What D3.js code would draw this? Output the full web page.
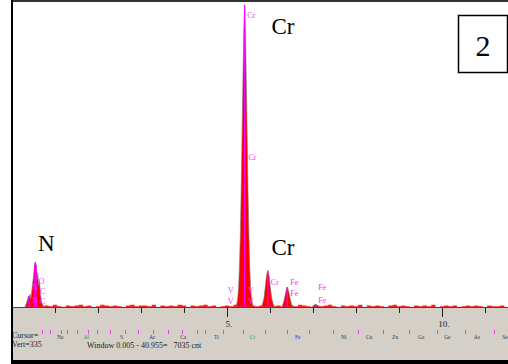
<!DOCTYPE html>
<html>
<head>
<meta charset="utf-8">
<script src="https://cdn.jsdelivr.net/npm/d3@7"></script>
<style>
  html, body { margin: 0; padding: 0; background: #fff; }
  svg { display: block; }
</style>
</head>
<body>
<svg id="chart"></svg>
<script>
// spectrum peaks, [keV, counts]
var nPeak = [[0.30,0],[0.32,2],[0.34,5],[0.36,8],[0.38,12],[0.40,10],[0.42,14],[0.44,9],[0.46,18],[0.48,26],
  [0.50,34],[0.52,44],[0.54,50],[0.56,46],[0.58,30],[0.60,38],[0.62,24],[0.64,28],[0.66,14],[0.68,8],[0.70,4],[0.72,2],[0.74,0]];
var crKa = [[5.21,0],[5.23,4],[5.25,10],[5.27,22],[5.29,45],[5.31,80],[5.33,130],[5.35,190],[5.37,250],[5.39,305],
  [5.41,330],[5.43,300],[5.45,245],[5.47,185],[5.49,125],[5.51,78],[5.53,42],[5.55,20],[5.57,9],[5.59,4],[5.61,0]];
var crKb = [[5.80,0],[5.83,4],[5.86,10],[5.89,22],[5.92,35],[5.95,40],[5.98,34],[6.01,21],[6.04,10],[6.07,4],[6.10,0]];
var feKa = [[6.27,0],[6.30,3],[6.33,8],[6.36,15],[6.39,21],[6.41,22],[6.44,16],[6.47,9],[6.50,3],[6.53,0]];
var feKb = [[6.98,0],[7.02,2],[7.06,3],[7.10,2],[7.14,0]];
var bgStart = 0.75, bgStep = 0.1;
var background = [2,1,3,1,0,2,1,2,3,1, 2,0,1,3,2,1,2,1,0,2, 3,1,2,2,1,3,0,2,1,2,
  1,3,2,0,2,1,2,3,1,2, 0,1,2,1,3,2,1,0,2,1, 2,1,3,1,2,0,1,2,1,3,
  2,1,0,2,1,2,3,1,0,2, 1,2,1,3,0,2,1,2,1,0, 2,3,1,2,1,0,2,1,2,1,
  3,0,1,2,1,2,0,1,2,1, 2,1,0,2,1,1,2,0];

// magenta line markers inside peaks [keV, counts]
var lineMarkers = [[0.39,12],[0.53,48],[0.56,46],[5.41,332],[5.95,40],[6.40,22],[7.06,3]];
// small magenta peak labels [text, keV, counts]
var peakLabels = [['Cr',5.47,320],['Cr',5.50,164],['Cr',6.02,27],['Fe',6.47,27],['Fe',6.47,15],
  ['Fe',7.12,22],['Fe',7.12,7],['V',5.02,18],['V',5.02,6],['V',5.49,18],['V',5.49,6],
  ['O',0.62,28],['N',0.47,22],['C',0.65,17],['C',0.65,6],['N',0.47,8]];
// big annotations [text, keV, counts]
var bigLabels = [['N',0.8,62],['Cr',6.3,300],['Cr',6.3,57]];

var majorTicks = [5, 10];
var minorTicks = [1, 2, 3, 4, 6, 7, 8, 9, 11];
var stripMarks = [0.70,0.88,1.14,1.28,1.51,1.77,1.98,2.28,2.63,2.93,3.28,3.63,3.95,4.30,4.49,4.91,
  5.37,5.88,6.40,6.91,7.47,8.05,8.63,9.23,9.88,10.53,11.21];
var stripNames = ['Na','Al','S','Ar','Ca','Ti','Cr','Fe','Ni','Cu','Zn','Ga','Ge','As','Se'];
var stripEnergies = [1.05,1.67,2.51,3.19,3.91,4.70,5.53,6.58,7.65,8.23,8.84,9.44,10.05,10.74,11.40];
var stripColors = {'Al':'#2e9a2e','Cr':'#2e9a2e','Fe':'#2222cc'};

var W = 508, H = 364;
var svg = d3.select('#chart').attr('width', W).attr('height', H);

var x = d3.scaleLinear().domain([0, 11.535]).range([12, 508]);
var y = d3.scaleLinear().domain([0, 335]).range([307, 2]);

// plot area & bottom panel
svg.append('rect').attr('x', 12).attr('y', 0).attr('width', W - 12).attr('height', 308).attr('fill', '#fff');
svg.append('rect').attr('x', 12).attr('y', 308).attr('width', W - 12).attr('height', 53).attr('fill', '#d4d0c8');

// background noise
var bgData = background.map(function (d, i) { return [bgStart + i * bgStep, d]; });
svg.append('path')
  .datum(bgData)
  .attr('d', d3.area().x(function (d) { return x(d[0]); }).y0(y(0)).y1(function (d) { return y(d[1] * 0.8); }).curve(d3.curveStepAfter))
  .attr('fill', '#ff2020');

var area = d3.area()
  .x(function (d) { return x(d[0]); })
  .y0(y(0))
  .y1(function (d) { return y(d[1]); })
  .curve(d3.curveLinear);

[nPeak, crKa, crKb, feKa, feKb].forEach(function (p) {
  svg.append('path').datum(p).attr('d', area)
    .attr('fill', '#ff0000').attr('stroke', '#7a7a7a').attr('stroke-width', 0.6);
});

svg.selectAll('line.mk').data(lineMarkers).enter().append('line')
  .attr('class', 'mk')
  .attr('x1', function (d) { return x(d[0]); }).attr('x2', function (d) { return x(d[0]); })
  .attr('y1', y(0)).attr('y2', function (d) { return y(d[1]); })
  .attr('stroke', '#ff00ff').attr('stroke-width', 1.2);

svg.selectAll('text.pl').data(peakLabels).enter().append('text')
  .attr('class', 'pl')
  .attr('x', function (d) { return x(d[1]); })
  .attr('y', function (d) { return y(d[2]); })
  .attr('dy', '0.35em')
  .attr('font-family', 'Liberation Serif, serif').attr('font-size', 8)
  .attr('fill', '#ff33ff')
  .text(function (d) { return d[0]; });

svg.selectAll('text.big').data(bigLabels).enter().append('text')
  .attr('class', 'big')
  .attr('x', function (d) { return x(d[1]); })
  .attr('y', function (d) { return y(d[2]); })
  .attr('text-anchor', 'middle')
  .attr('font-family', 'Liberation Serif, Times New Roman, serif').attr('font-size', 23)
  .attr('fill', '#000')
  .text(function (d) { return d[0]; });

// sample number box
svg.append('rect').attr('x', 458.5).attr('y', 15.5).attr('width', 49).attr('height', 57)
  .attr('fill', '#fff').attr('stroke', '#000').attr('stroke-width', 1.5);
svg.append('text').attr('x', 483).attr('y', 56).attr('text-anchor', 'middle')
  .attr('font-family', 'Liberation Serif, Times New Roman, serif').attr('font-size', 30).text('2');

// energy axis
svg.append('line').attr('x1', 12).attr('x2', W).attr('y1', 307.5).attr('y2', 307.5)
  .attr('stroke', '#444').attr('stroke-width', 1);
svg.selectAll('line.minor').data(minorTicks).enter().append('line')
  .attr('class', 'minor')
  .attr('x1', function (d) { return Math.round(x(d)) + 0.5; }).attr('x2', function (d) { return Math.round(x(d)) + 0.5; })
  .attr('y1', 308).attr('y2', 313).attr('stroke', '#222');
svg.selectAll('line.major').data(majorTicks).enter().append('line')
  .attr('class', 'major')
  .attr('x1', function (d) { return Math.round(x(d)) + 0.5; }).attr('x2', function (d) { return Math.round(x(d)) + 0.5; })
  .attr('y1', 308).attr('y2', 317).attr('stroke', '#222');
svg.selectAll('text.major').data(majorTicks).enter().append('text')
  .attr('class', 'major')
  .attr('x', function (d) { return x(d) + 2; }).attr('y', 327)
  .attr('text-anchor', 'middle')
  .attr('font-family', 'Liberation Serif, serif').attr('font-size', 9).attr('fill', '#222')
  .text(function (d) { return d + '.'; });

// element marker strip
svg.selectAll('line.strip').data(stripMarks).enter().append('line')
  .attr('class', 'strip')
  .attr('x1', function (d) { return Math.round(x(d)) + 0.5; }).attr('x2', function (d) { return Math.round(x(d)) + 0.5; })
  .attr('y1', 330).attr('y2', 334).attr('stroke', '#ff33ff').attr('stroke-width', 1);
svg.selectAll('text.strip').data(stripNames).enter().append('text')
  .attr('class', 'strip')
  .attr('x', function (d, i) { return x(stripEnergies[i]); }).attr('y', 339)
  .attr('font-family', 'Liberation Serif, serif').attr('font-size', 5.5)
  .attr('fill', function (d) { return stripColors[d] || '#333'; })
  .text(function (d) { return d; });

svg.append('text').attr('x', 12).attr('y', 338)
  .attr('font-family', 'Liberation Serif, serif').attr('font-size', 8).attr('fill', '#222').text('Cursor=');
svg.append('text').attr('x', 12).attr('y', 347)
  .attr('font-family', 'Liberation Serif, serif').attr('font-size', 8).attr('fill', '#222').text('Vert=335');
svg.append('text').attr('x', 87).attr('y', 347.5).attr('xml:space', 'preserve')
  .attr('font-family', 'Liberation Serif, serif').attr('font-size', 8).attr('fill', '#222')
  .text('Window 0.005 - 40.955=   7035 cnt');

// frame
svg.append('rect').attr('x', 12).attr('y', 0).attr('width', W - 12).attr('height', 2).attr('fill', '#333');
svg.append('rect').attr('x', 11).attr('y', 0).attr('width', 2).attr('height', H).attr('fill', '#000');
svg.append('rect').attr('x', 11).attr('y', 360).attr('width', W - 11).attr('height', 4).attr('fill', '#000');
</script>
</body>
</html>
